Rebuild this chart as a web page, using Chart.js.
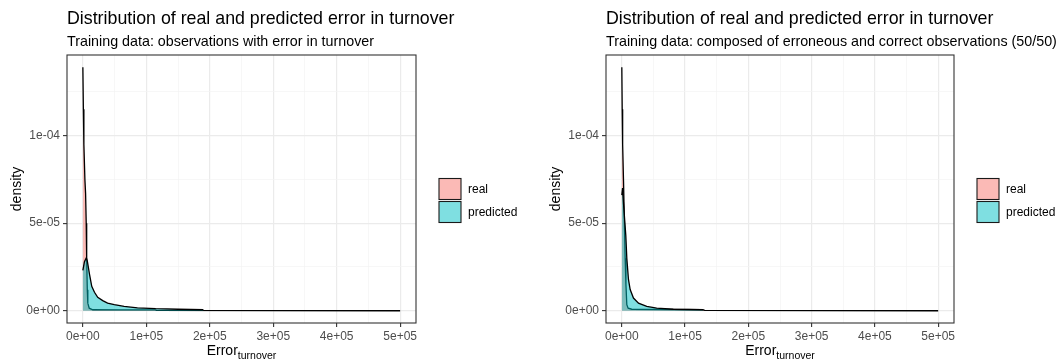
<!DOCTYPE html>
<html>
<head>
<meta charset="utf-8">
<script src="https://cdn.jsdelivr.net/npm/chart.js"></script>
<style>
  body { margin: 0; background: #fff; width: 1064px; height: 360px; overflow: hidden; }
  .panel { position: absolute; top: 0; width: 532px; height: 360px; }
</style>
</head>
<body>
<div class="panel" style="left:0"><canvas id="errOnly" width="532" height="360"></canvas></div>
<div class="panel" style="left:532px"><canvas id="mixed" width="532" height="360"></canvas></div>
<script>
// Density of real vs predicted turnover error, two training setups side by side
const seriesNames = ['real', 'predicted'];
const mainTitle = 'Distribution of real and predicted error in turnover';
const subTitles = [
    'Training data: observations with error in turnover',
    'Training data: composed of erroneous and correct observations (50/50)'
];
const xTitleMain = 'Error';
const xTitleSub = 'turnover';
const yTitle = 'density';

const xTickValues = [0, 1e5, 2e5, 3e5, 4e5, 5e5];
const xTickLabels = ['0e+00', '1e+05', '2e+05', '3e+05', '4e+05', '5e+05'];
const xMinorValues = [5e4, 1.5e5, 2.5e5, 3.5e5, 4.5e5];
const yTickValues = [0, 5e-5, 1e-4];
const yTickLabels = ['0e+00', '5e-05', '1e-04'];
const yMinorValues = [2.5e-5, 7.5e-5, 1.25e-4];

// left: trained on observations with error only
const errRealX = [0, 800, 1600, 3200, 4300, 5300, 6000, 7000, 7800, 10000, 15600, 60000, 114000, 116000, 300000, 500000];
const errRealY = [1.39e-4, 1.15e-4, 9.5e-5, 7.5e-5, 6.7e-5, 5.0e-5, 3.0e-5, 1.2e-5, 4.4e-6, 1.5e-6, 6e-7, 5e-7, 5e-7, 2e-7, 1e-7, 5e-8];
const errPredX = [0, 2500, 5500, 7000, 10500, 14000, 18300, 23400, 31300, 39000, 49500, 65000, 86000, 114700, 150000, 190000];
const errPredY = [2.31e-5, 2.8e-5, 3.03e-5, 2.85e-5, 2.08e-5, 1.4e-5, 1.06e-5, 7.7e-6, 5.8e-6, 4.4e-6, 3.5e-6, 2.5e-6, 1.7e-6, 1.2e-6, 9e-7, 6e-7];

// right: 50/50 mix of erroneous and correct observations
const mixRealX = [0, 600, 1300, 2700, 3500, 5300, 6500, 7900, 10000, 15700, 128000, 131000, 500000];
const mixRealY = [1.39e-4, 1.15e-4, 9.5e-5, 7.4e-5, 6.0e-5, 3.0e-5, 1.5e-5, 3.5e-6, 1.5e-6, 9e-7, 6e-7, 2e-7, 5e-8];
const mixPredX = [0, 1200, 2700, 4500, 6300, 7900, 10500, 13200, 18400, 26300, 39400, 55100, 81400, 128700];
const mixPredY = [6.6e-5, 7.0e-5, 6.1e-5, 5.2e-5, 4.3e-5, 3.0e-5, 1.79e-5, 1.21e-5, 7.3e-6, 4.4e-6, 2.5e-6, 1.5e-6, 9e-7, 6e-7];

const FONT = '"Liberation Sans", Arial, sans-serif';
const fills = ['rgba(248,118,109,0.5)', 'rgba(0,191,196,0.5)'];

const toPoints = (xs, ys) => xs.map((x, i) => ({ x: x, y: ys[i] }));
const isMajor = (list, v) => list.indexOf(v) !== -1;

// frame, legend, titles and the subscripted x title
const decorPlugin = {
    id: 'decor',
    afterDraw(chart) {
        const ctx = chart.ctx;
        const a = chart.chartArea;
        const o = chart.options.plugins.decor;
        ctx.save();

        ctx.strokeStyle = '#333333';
        ctx.lineWidth = 1.1;
        ctx.strokeRect(a.left, a.top, a.right - a.left, a.bottom - a.top);

        ctx.fillStyle = '#000';
        ctx.textBaseline = 'alphabetic';
        ctx.textAlign = 'left';
        ctx.font = '17.8px ' + FONT;
        ctx.fillText(mainTitle, a.left, 23.5);
        ctx.font = '14.3px ' + FONT;
        ctx.fillText(o.subtitle, a.left, 45.5);

        // x title: Error with subscript
        ctx.font = '14px ' + FONT;
        const w1 = ctx.measureText(xTitleMain).width;
        ctx.font = '10.5px ' + FONT;
        const w2 = ctx.measureText(xTitleSub).width;
        const x0 = (a.left + a.right) / 2 - (w1 + w2) / 2;
        ctx.font = '14px ' + FONT;
        ctx.fillText(xTitleMain, x0, 355);
        ctx.font = '10.5px ' + FONT;
        ctx.fillText(xTitleSub, x0 + w1, 359);

        // legend keys
        const kx = a.right + 22;
        chart.data.datasets.forEach((ds, i) => {
            const ky = 177.5 + i * 23;
            ctx.fillStyle = '#fff';
            ctx.fillRect(kx + 1, ky + 1, 22, 21);
            ctx.fillStyle = ds.backgroundColor;
            ctx.fillRect(kx + 1, ky + 1, 22, 21);
            ctx.strokeStyle = '#1a1a1a';
            ctx.lineWidth = 1.1;
            ctx.strokeRect(kx + 1, ky + 1, 22, 21);
            ctx.fillStyle = '#000';
            ctx.font = '12px ' + FONT;
            ctx.textBaseline = 'middle';
            ctx.fillText(ds.label, kx + 30, ky + 12);
        });
        ctx.restore();
    }
};

function makeChart(id, subtitle, realX, realY, predX, predY, frame) {
    const allX = realX.concat(predX);
    const allY = realY.concat(predY);
    const xLo = Math.min(...allX), xHi = Math.max(...allX);
    const yLo = Math.min(0, ...allY), yHi = Math.max(...allY);
    const xPad = (xHi - xLo) * 0.05, yPad = (yHi - yLo) * 0.05;

    const gridOpts = (majors) => ({
        color: c => (c.tick && isMajor(majors, c.tick.value)) ? '#EBEBEB' : '#F3F3F3',
        lineWidth: c => (c.tick && isMajor(majors, c.tick.value)) ? 1.2 : 0.7,
        tickColor: c => (c.tick && isMajor(majors, c.tick.value)) ? '#333333' : 'rgba(0,0,0,0)',
        tickLength: 4,
        tickWidth: 1.1,
        drawTicks: true
    });

    return new Chart(document.getElementById(id), {
        type: 'line',
        data: {
            datasets: [
                {
                    label: seriesNames[0],
                    data: toPoints(realX, realY),
                    backgroundColor: fills[0],
                    borderColor: '#000',
                    borderWidth: 1.3,
                    fill: 'origin',
                    order: 2
                },
                {
                    label: seriesNames[1],
                    data: toPoints(predX, predY),
                    backgroundColor: fills[1],
                    borderColor: '#000',
                    borderWidth: 1.3,
                    fill: 'origin',
                    order: 1
                }
            ]
        },
        options: {
            responsive: false,
            animation: false,
            events: [],
            devicePixelRatio: 1,
            layout: { padding: { left: 0, right: frame.padRight, top: 55, bottom: 0 } },
            elements: { point: { radius: 0 }, line: { tension: 0 } },
            plugins: {
                legend: { display: false },
                tooltip: { enabled: false },
                decor: { subtitle: subtitle }
            },
            scales: {
                x: {
                    type: 'linear',
                    min: xLo - xPad,
                    max: xHi + xPad,
                    afterBuildTicks: s => {
                        s.ticks = xTickValues.concat(xMinorValues).sort((p, q) => p - q).map(v => ({ value: v }));
                    },
                    afterFit: s => { s.height = 37; },
                    ticks: {
                        autoSkip: false,
                        maxRotation: 0,
                        padding: 2,
                        color: '#4D4D4D',
                        font: { family: FONT, size: 12 },
                        callback: v => { const k = xTickValues.indexOf(v); return k === -1 ? '' : xTickLabels[k]; }
                    },
                    grid: gridOpts(xTickValues),
                    border: { display: false }
                },
                y: {
                    type: 'linear',
                    min: yLo - yPad,
                    max: yHi + yPad,
                    afterBuildTicks: s => {
                        s.ticks = yTickValues.concat(yMinorValues).sort((p, q) => p - q).map(v => ({ value: v }));
                    },
                    afterFit: s => { s.width = frame.plotLeft; },
                    ticks: {
                        autoSkip: false,
                        padding: 3,
                        color: '#4D4D4D',
                        font: { family: FONT, size: 12 },
                        callback: v => { const k = yTickValues.indexOf(v); return k === -1 ? '' : yTickLabels[k]; }
                    },
                    grid: gridOpts(yTickValues),
                    border: { display: false },
                    title: {
                        display: true,
                        text: yTitle,
                        color: '#000',
                        font: { family: FONT, size: 14 },
                        padding: { top: frame.yTitleGap, bottom: 0 }
                    }
                }
            }
        },
        plugins: [decorPlugin]
    });
}

makeChart('errOnly', subTitles[0], errRealX, errRealY, errPredX, errPredY, { plotLeft: 67, padRight: 116, yTitleGap: 9 });
makeChart('mixed', subTitles[1], mixRealX, mixRealY, mixPredX, mixPredY, { plotLeft: 74, padRight: 110, yTitleGap: 16 });
</script>
</body>
</html>
